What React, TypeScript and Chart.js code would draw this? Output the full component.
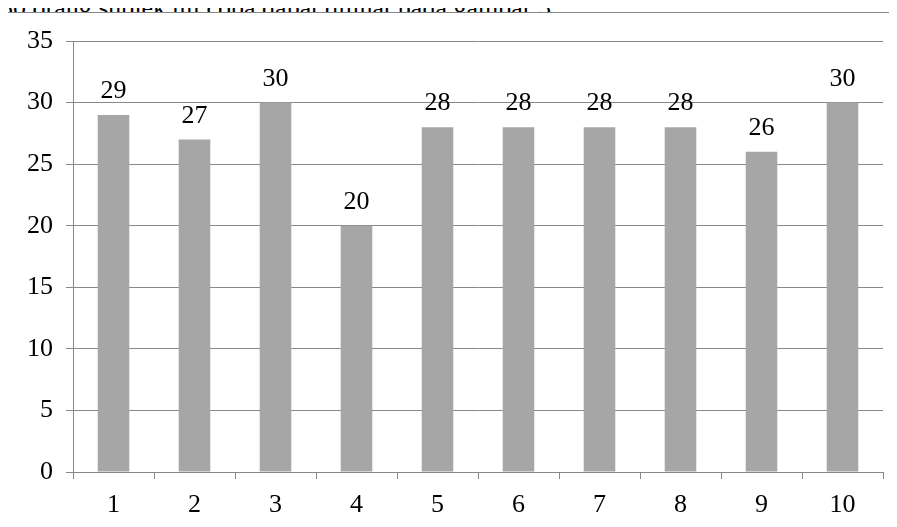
import React, { useEffect, useRef } from "react";
import { Chart, registerables } from "chart.js";

Chart.register(...registerables);

const categories = ["1", "2", "3", "4", "5", "6", "7", "8", "9", "10"];
const values = [29, 27, 30, 20, 28, 28, 28, 28, 26, 30];
const yMin = 0;
const yMax = 35;
const yStep = 5;
const captionText = "30 orang subjek uji coba dapat dilihat pada gambar 3.";

const FONT = '"Liberation Serif", "Times New Roman", serif';

const valueLabels = {
  id: "valueLabels",
  afterDatasetsDraw(chart: any) {
    const ctx = chart.ctx;
    const meta = chart.getDatasetMeta(0);
    ctx.save();
    ctx.font = `26px ${FONT}`;
    ctx.fillStyle = "#000";
    ctx.textAlign = "center";
    ctx.textBaseline = "alphabetic";
    meta.data.forEach((bar: any, i: number) => {
      const v = chart.data.datasets[0].data[i];
      ctx.fillText(String(v), bar.x, bar.y - 17);
    });
    ctx.restore();
  },
};

export default function App() {
  const ref = useRef<HTMLCanvasElement | null>(null);

  useEffect(() => {
    if (!ref.current) return;
    const chart = new Chart(ref.current, {
      type: "bar",
      data: {
        labels: categories,
        datasets: [
          {
            data: values,
            backgroundColor: "#A6A6A6",
            borderWidth: 0,
            barPercentage: 0.39,
            categoryPercentage: 1,
          },
        ],
      },
      options: {
        animation: false,
        responsive: false,
        devicePixelRatio: 1,
        layout: { padding: { left: 0, right: 14, top: 41, bottom: 0 } },
        plugins: { legend: { display: false }, tooltip: { enabled: false } },
        scales: {
          x: {
            offset: true,
            grid: {
              offset: true,
              drawOnChartArea: false,
              drawTicks: true,
              tickLength: 7,
              color: "#888888",
            },
            border: { color: "#888888" },
            ticks: {
              color: "#000",
              font: { family: FONT, size: 26 },
              padding: 11,
              maxRotation: 0,
            },
            afterFit: (s: any) => {
              s.height = 55;
            },
          },
          y: {
            min: yMin,
            max: yMax,
            grid: { color: "#888888", tickLength: 7, drawTicks: true },
            border: { color: "#888888" },
            ticks: {
              stepSize: yStep,
              color: "#000",
              font: { family: FONT, size: 26 },
              padding: 13,
            },
            afterFit: (s: any) => {
              s.width = 73;
            },
          },
        },
      },
      plugins: [valueLabels],
    });
    return () => chart.destroy();
  }, []);

  return (
    <div
      style={{
        position: "relative",
        width: 897,
        height: 527,
        margin: -8,
        overflow: "hidden",
        background: "#fff",
      }}
    >
      <div
        style={{
          position: "absolute",
          left: 0,
          top: -5,
          fontFamily: FONT,
          fontSize: 26,
          lineHeight: "26px",
          color: "#000",
          whiteSpace: "nowrap",
        }}
      >
        {captionText}
      </div>
      <div
        style={{
          position: "absolute",
          left: 7,
          top: 12,
          width: 1200,
          height: 1200,
          border: "1px solid #888888",
          boxSizing: "border-box",
          background: "#fff",
        }}
      />
      <canvas
        ref={ref}
        width={897}
        height={527}
        style={{ position: "absolute", left: 0, top: 0 }}
      />
    </div>
  );
}
